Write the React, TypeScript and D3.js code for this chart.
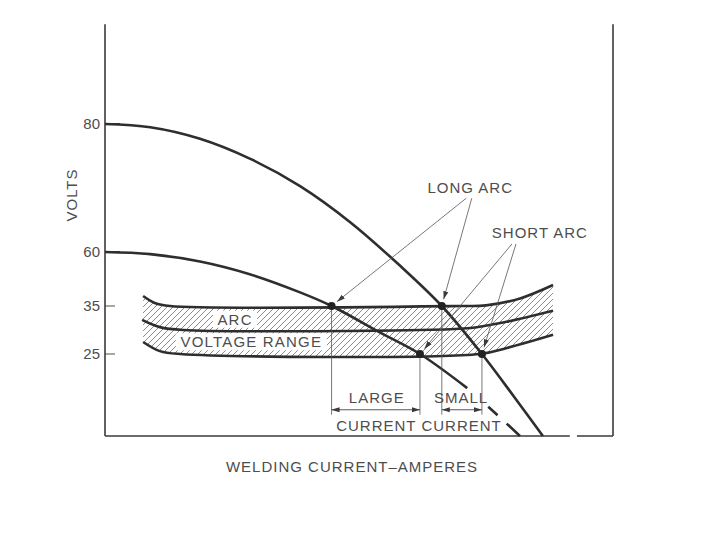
import React from "react";
import * as d3 from "d3";

const W = 720;
const H = 540;

// Scales (broken volt axis, as in the original schematic)
const voltDomain = [0, 25, 35, 60, 80];
const voltRange = [436, 354, 306, 252, 124];
const ampDomain = [0, 100];
const frameTopVolts = 95.6;
const axisBreak = [91.5, 92.9];

const voltTicks = [80, 60, 35, 25];
const majorTicks = [80, 60];

// Machine characteristic with 80 V open circuit (steep curve)
const curve80 = [
  [0, 80], [8.9, 79.5], [18.7, 77.7], [28.5, 74.6], [38.4, 70.3], [48.2, 64.7],
  [58.1, 53.6], [66.3, 35], [74.2, 25], [80.7, 11.6], [86.2, 0],
];
// Machine characteristic with 60 V open circuit
const curve60Solid = [
  [0, 60], [8.9, 59], [18.7, 55.6], [28.5, 49.7], [38.4, 41.3], [44.6, 35],
  [54.1, 29.5], [62, 25], [71.3, 14.6],
];
const curve60Dashed = [[71.3, 14.6], [76.8, 7], [81.7, 0]];

// Arc voltage range band
const bandTop = [[7.5, 39.6], [9.8, 36.4], [12.8, 35], [70, 35], [75, 35.3], [81.7, 38.5], [88.2, 44.7]];
const bandMid = [[7.3, 32.1], [10.8, 30.6], [15.4, 30], [62, 30], [72, 30.4], [79, 31.7], [88.2, 34]];
const bandBottom = [[7.5, 27.5], [10.8, 25.6], [14.8, 25], [73.8, 25], [79.1, 26.25], [88.2, 29]];

// Operating points: [amps, volts]
const points = [[44.6, 35], [66.3, 35], [62, 25], [74.2, 25]];
const dropToVolts = 6.5;
const dimVolts = 8;

// Leaders: [fromAmps, fromVolts, toPointIndex]
const leaders = [
  [71.1, 68.4, 0],
  [72.2, 68.4, 1],
  [80.1, 61.25, 2],
  [80.9, 61.25, 3],
];

// Labels: [text, amps, volts]
const labels: [string, number, number][] = [
  ["LONG ARC", 71.9, 69.2],
  ["SHORT ARC", 85.6, 62.2],
  ["LARGE", 53.5, 10],
  ["SMALL", 70.1, 10],
  ["CURRENT CURRENT", 61.8, 1.6],
];
const bandLabels: [string, number, number, number][] = [
  ["ARC", 25.6, 31.1, 44],
  ["VOLTAGE RANGE", 28.8, 26.4, 151],
];

const xLabel = "WELDING CURRENT\u2013AMPERES";
const yLabel = "VOLTS";

const FONT = "'Liberation Sans', Arial, Helvetica, sans-serif";
const INK = "#2e2e2e";
const TEXT = "#4d4d4d";

export default function App() {
  const x = d3.scaleLinear().domain(ampDomain).range([105, 613]);
  const y = d3.scaleLinear().domain(voltDomain).range(voltRange);

  const line = d3
    .line<number[]>()
    .x((d) => x(d[0]))
    .y((d) => y(d[1]))
    .curve(d3.curveCatmullRom.alpha(0.5));

  const bandPath =
    (line(bandTop) as string) +
    "L" +
    (line([...bandBottom].reverse()) as string).slice(1) +
    "Z";

  const x0 = x(ampDomain[0]);
  const x1 = x(ampDomain[1]);
  const yb = y(0);
  const yt = y(frameTopVolts);

  const shorten = (fx: number, fy: number, tx: number, ty: number, d: number) => {
    const len = Math.hypot(tx - fx, ty - fy);
    return [tx - ((tx - fx) / len) * d, ty - ((ty - fy) / len) * d];
  };

  return (
    <svg width={W} height={H} style={{ display: "block", position: "absolute", left: 0, top: 0 }}>
      <defs>
        <pattern id="hatch" width="6" height="6" patternUnits="userSpaceOnUse">
          <path d="M-1,1 l2,-2 M0,6 l6,-6 M5,7 l2,-2" stroke="#666" strokeWidth="0.75" />
        </pattern>
        <marker id="arr" viewBox="0 0 10 10" refX="10" refY="5" markerWidth="8" markerHeight="8"
          markerUnits="userSpaceOnUse" orient="auto-start-reverse">
          <path d="M0,1.8 L10,5 L0,8.2 z" fill="#3a3a3a" />
        </marker>
      </defs>
      <rect x={0} y={0} width={W} height={H} fill="#fff" />

      {/* band hatch */}
      <path d={bandPath} fill="url(#hatch)" stroke="none" />
      {bandLabels.map(([t, a, v, w]) => (
        <rect key={t} x={x(a) - w / 2} y={y(v) - 14} width={w} height={17} fill="#fff" />
      ))}
      {[bandTop, bandMid, bandBottom].map((b, i) => (
        <path key={i} d={line(b) as string} fill="none" stroke={INK} strokeWidth={2.6} />
      ))}

      {/* frame / axes */}
      <line x1={x0} y1={yt} x2={x0} y2={yb} stroke="#3a3a3a" strokeWidth={1.6} />
      <line x1={x1} y1={yt} x2={x1} y2={yb} stroke="#3a3a3a" strokeWidth={1.6} />
      <line x1={x0} y1={yb} x2={x(axisBreak[0])} y2={yb} stroke="#3a3a3a" strokeWidth={1.6} />
      <line x1={x(axisBreak[1])} y1={yb} x2={x1} y2={yb} stroke="#3a3a3a" strokeWidth={1.6} />

      {voltTicks.map((v) => {
        const major = majorTicks.includes(v);
        return (
          <g key={v}>
            <line x1={x0} x2={x0 + (major ? 15 : 10)} y1={y(v)} y2={y(v)} stroke="#3a3a3a"
              strokeWidth={major ? 2 : 0.9} />
            <text x={x0 - 5} y={y(v)} dy="0.36em" textAnchor="end" fontFamily={FONT}
              fontSize={15} fill={TEXT}>{v}</text>
          </g>
        );
      })}

      {/* machine curves */}
      <path d={line(curve80) as string} fill="none" stroke={INK} strokeWidth={2.6} />
      <path d={line(curve60Solid) as string} fill="none" stroke={INK} strokeWidth={2.6} />
      <path d={line(curve60Dashed) as string} fill="none" stroke={INK} strokeWidth={2.6}
        strokeDasharray="0 28 13 12 18 100" />

      {/* drop lines */}
      {points.map(([a, v], i) => (
        <line key={i} x1={x(a)} x2={x(a)} y1={y(v)} y2={y(dropToVolts)} stroke="#555" strokeWidth={0.8} />
      ))}

      {/* dimension arrows */}
      <line x1={x(points[0][0])} x2={x(points[2][0])} y1={y(dimVolts)} y2={y(dimVolts)} stroke="#444"
        strokeWidth={0.9} markerStart="url(#arr)" markerEnd="url(#arr)" />
      <line x1={x(points[1][0])} x2={x(points[3][0])} y1={y(dimVolts)} y2={y(dimVolts)} stroke="#444"
        strokeWidth={0.9} markerStart="url(#arr)" markerEnd="url(#arr)" />

      {/* leaders */}
      {leaders.map(([fa, fv, pi], i) => {
        const fx = x(fa);
        const fy = y(fv);
        const [tx, ty] = shorten(fx, fy, x(points[pi][0]), y(points[pi][1]), 7);
        return (
          <line key={i} x1={fx} y1={fy} x2={tx} y2={ty} stroke="#555" strokeWidth={0.8}
            markerEnd="url(#arr)" />
        );
      })}

      {/* dots */}
      {points.map(([a, v], i) => (
        <circle key={i} cx={x(a)} cy={y(v)} r={4} fill="#222" />
      ))}

      {/* labels */}
      {labels.map(([t, a, v]) => (
        <text key={t} x={x(a)} y={y(v)} textAnchor="middle" fontFamily={FONT} fontSize={15}
          letterSpacing={1} fill={TEXT}>{t}</text>
      ))}
      {bandLabels.map(([t, a, v]) => (
        <text key={t} x={x(a)} y={y(v)} textAnchor="middle" fontFamily={FONT} fontSize={15}
          letterSpacing={1.2} fill={TEXT}>{t}</text>
      ))}

      <text x={352} y={472} textAnchor="middle" fontFamily={FONT} fontSize={15} letterSpacing={1}
        fill={TEXT}>{xLabel}</text>
      <text transform="translate(77,195) rotate(-90)" textAnchor="middle" fontFamily={FONT}
        fontSize={15} letterSpacing={1} fill={TEXT}>{yLabel}</text>
    </svg>
  );
}
